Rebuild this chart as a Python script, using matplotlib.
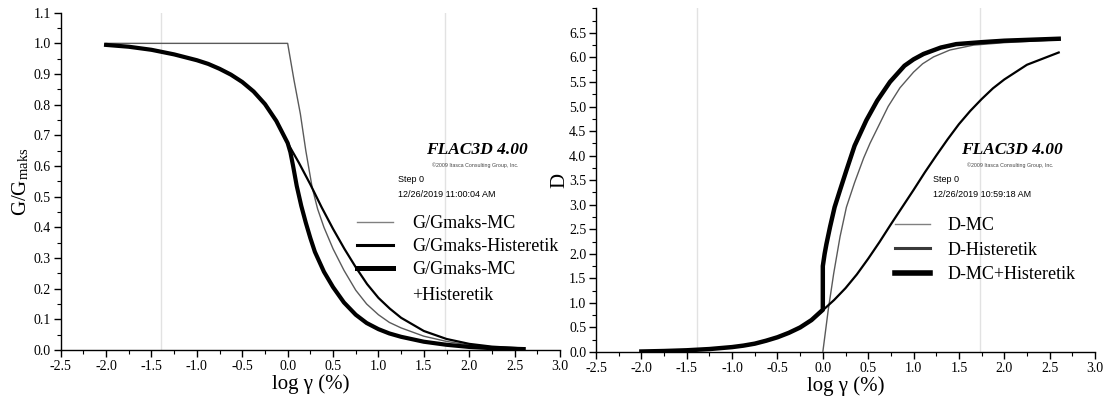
import matplotlib
matplotlib.use("Agg")
import matplotlib.pyplot as plt
from matplotlib.ticker import MultipleLocator, FormatStrFormatter
from matplotlib.lines import Line2D

plt.rcParams['font.family'] = ['Liberation Serif', 'DejaVu Serif']
plt.rcParams['mathtext.fontset'] = 'stix'
plt.rcParams['axes.unicode_minus'] = False

# ---------------- data: left panel (G/Gmaks) ----------------
g_mc_x = [-2.0, 0.0, 0.07, 0.14, 0.2, 0.27, 0.33, 0.4, 0.5, 0.62, 0.75, 0.87, 1.0, 1.12, 1.25,
          1.5, 1.75, 2.0, 2.25, 2.6]
g_mc_y = [1.0, 1.0, 0.88, 0.77, 0.65, 0.53, 0.46, 0.40, 0.33, 0.26, 0.195, 0.15, 0.115, 0.09,
          0.072, 0.045, 0.028, 0.016, 0.009, 0.004]

g_hist_x = [-2.0, -1.75, -1.5, -1.25, -1.0, -0.875, -0.75, -0.625, -0.5, -0.375, -0.25, -0.125,
            0.0, 0.125, 0.25, 0.375, 0.5, 0.625, 0.75, 0.875, 1.0, 1.125, 1.25, 1.5, 1.75,
            2.0, 2.25, 2.6]
g_hist_y = [0.995, 0.989, 0.979, 0.964, 0.945, 0.933, 0.917, 0.898, 0.874, 0.843, 0.802, 0.747,
            0.675, 0.61, 0.54, 0.465, 0.395, 0.33, 0.27, 0.215, 0.17, 0.135, 0.105, 0.062,
            0.036, 0.02, 0.011, 0.005]

g_comb_x = [-2.0, -1.75, -1.5, -1.25, -1.0, -0.875, -0.75, -0.625, -0.5, -0.375, -0.25, -0.125,
            0.0, 0.03, 0.06, 0.1, 0.15, 0.2, 0.25, 0.3, 0.4, 0.5, 0.62, 0.75, 0.87, 1.0, 1.12,
            1.25, 1.5, 1.75, 2.0, 2.25, 2.6]
g_comb_y = [0.995, 0.989, 0.979, 0.964, 0.945, 0.933, 0.917, 0.898, 0.874, 0.843, 0.802, 0.747,
            0.675, 0.645, 0.60, 0.535, 0.47, 0.415, 0.365, 0.32, 0.255, 0.205, 0.155, 0.115,
            0.088, 0.068, 0.054, 0.043, 0.027, 0.017, 0.010, 0.006, 0.003]

# ---------------- data: right panel (D) ----------------
d_mc_x = [0.0, 0.03, 0.06, 0.12, 0.19, 0.26, 0.35, 0.45, 0.52, 0.6, 0.72, 0.85, 1.0, 1.1,
          1.22, 1.4, 1.66, 2.0, 2.3, 2.6]
d_mc_y = [0.0, 0.43, 0.86, 1.6, 2.35, 2.95, 3.45, 3.95, 4.25, 4.55, 5.0, 5.38, 5.7, 5.87,
          6.01, 6.15, 6.25, 6.3, 6.33, 6.36]

d_hist_x = [-2.0, -1.75, -1.5, -1.25, -1.0, -0.875, -0.75, -0.625, -0.5, -0.375, -0.25, -0.125,
            0.0, 0.125, 0.25, 0.375, 0.5, 0.625, 0.75, 0.875, 1.0, 1.125, 1.25, 1.375, 1.5,
            1.625, 1.75, 1.875, 2.0, 2.25, 2.6]
d_hist_y = [0.01, 0.02, 0.035, 0.06, 0.10, 0.13, 0.17, 0.23, 0.30, 0.39, 0.50, 0.65,
            0.85, 1.06, 1.30, 1.58, 1.90, 2.24, 2.60, 2.95, 3.30, 3.66, 4.00, 4.33, 4.64,
            4.91, 5.15, 5.37, 5.55, 5.85, 6.10]

d_comb_x = [-2.0, -1.75, -1.5, -1.25, -1.0, -0.875, -0.75, -0.625, -0.5, -0.375, -0.25, -0.125,
            0.0, 0.0, 0.02, 0.04, 0.08, 0.13, 0.19, 0.26, 0.35, 0.48, 0.6, 0.74, 0.9, 1.0,
            1.11, 1.3, 1.47, 1.75, 2.0, 2.3, 2.6]
d_comb_y = [0.01, 0.02, 0.035, 0.06, 0.10, 0.13, 0.17, 0.23, 0.30, 0.39, 0.50, 0.65,
            0.86, 1.75, 2.0, 2.2, 2.55, 2.95, 3.3, 3.7, 4.2, 4.72, 5.12, 5.5, 5.83, 5.96,
            6.07, 6.2, 6.27, 6.31, 6.34, 6.36, 6.38]

grid_x = [-1.39, 1.73]

left_labels = ['G/Gmaks-MC', 'G/Gmaks-Histeretik', 'G/Gmaks-MC']
right_labels = ['D-MC', 'D-Histeretik', 'D-MC+Histeretik']

W, H = 1105, 405
fig = plt.figure(figsize=(W / 100, H / 100), dpi=100)


def fx(px):
    return px / W


def fy(py):
    return 1 - py / H


axL = fig.add_axes([fx(60.7), fy(350), fx(560 - 60.7), (350 - 12.7) / H])
axR = fig.add_axes([fx(596), fy(352), fx(1095 - 596), (352 - 8.3) / H])

for ax in (axL, axR):
    for gx in grid_x:
        ax.axvline(gx, color='#e2e2e2', lw=1.0, zorder=0)
    ax.spines['top'].set_visible(False)
    ax.spines['right'].set_visible(False)
    ax.set_xlim(-2.5, 3.0)
    ax.xaxis.set_major_locator(MultipleLocator(0.5))
    ax.xaxis.set_minor_locator(MultipleLocator(0.25))
    ax.xaxis.set_major_formatter(FormatStrFormatter('%.1f'))
    ax.yaxis.set_major_formatter(FormatStrFormatter('%.1f'))
    ax.tick_params(which='major', direction='out', length=5, width=1, labelsize=10, pad=2)
    ax.tick_params(which='minor', direction='out', length=3, width=0.8)
    ax.set_xlabel('log γ (%)', fontsize=15, labelpad=1)
    for s in ('left', 'bottom'):
        ax.spines[s].set_linewidth(1.0)

# left panel curves
axL.plot(g_mc_x, g_mc_y, color='#5a5a5a', lw=1.0, zorder=3)
axL.plot(g_hist_x, g_hist_y, color='black', lw=1.6, zorder=3)
axL.plot(g_comb_x, g_comb_y, color='black', lw=3.0, zorder=4)
axL.set_ylim(0, 1.1)
axL.yaxis.set_major_locator(MultipleLocator(0.1))
axL.yaxis.set_minor_locator(MultipleLocator(0.05))
axL.set_ylabel(r'G/G$_{\mathregular{maks}}$', fontsize=15, labelpad=2)

# right panel curves
axR.plot(d_mc_x, d_mc_y, color='#5a5a5a', lw=1.0, zorder=3)
axR.plot(d_hist_x, d_hist_y, color='black', lw=1.6, zorder=3)
axR.plot(d_comb_x, d_comb_y, color='black', lw=3.2, zorder=4)
axR.set_ylim(0, 7.0)
axR.yaxis.set_minor_locator(MultipleLocator(0.25))
axR.set_yticks([0.5 * i for i in range(14)])
axR.set_ylabel('D', fontsize=15, labelpad=0)

# legends
hL = [Line2D([], [], color='#808080', lw=1.0),
      Line2D([], [], color='black', lw=2.2),
      Line2D([], [], color='black', lw=3.6)]
legL = axL.legend(hL, left_labels, loc='upper left',
                  bbox_to_anchor=(fx(357), fy(215)), bbox_transform=fig.transFigure,
                  frameon=False, fontsize=13, handlelength=2.0, handletextpad=1.05,
                  labelspacing=0.33, borderpad=0, borderaxespad=0)
fig.text(fx(412), fy(296), '+Histeretik', fontsize=13, ha='left', va='center')

hR = [Line2D([], [], color='#808080', lw=1.0),
      Line2D([], [], color='#3a3a3a', lw=2.2),
      Line2D([], [], color='black', lw=4.0)]
legR = axR.legend(hR, right_labels, loc='upper left',
                  bbox_to_anchor=(fx(895), fy(217)), bbox_transform=fig.transFigure,
                  frameon=False, fontsize=13, handlelength=1.95, handletextpad=0.95,
                  labelspacing=0.42, borderpad=0, borderaxespad=0)

# FLAC3D annotations
narrow = ['Liberation Sans Narrow', 'Liberation Sans', 'DejaVu Sans']
for cx, sx, date in [(477, 398, '12/26/2019 11:00:04 AM'), (1012, 933, '12/26/2019 10:59:18 AM')]:
    fig.text(fx(cx), fy(150), 'FLAC3D 4.00', fontsize=12.5, fontweight='bold', fontstyle='italic',
             ha='center', va='center')
    fig.text(fx(cx - 2), fy(165), '©2009 Itasca Consulting Group, Inc.', fontsize=3.8,
             family=narrow, color='#444444', ha='center', va='center')
    fig.text(fx(sx), fy(180), 'Step 0', fontsize=6.5, family=narrow, ha='left', va='center')
    fig.text(fx(sx), fy(195), date, fontsize=6.5, family=narrow, ha='left', va='center')

fig.savefig('out.png', dpi=100)
